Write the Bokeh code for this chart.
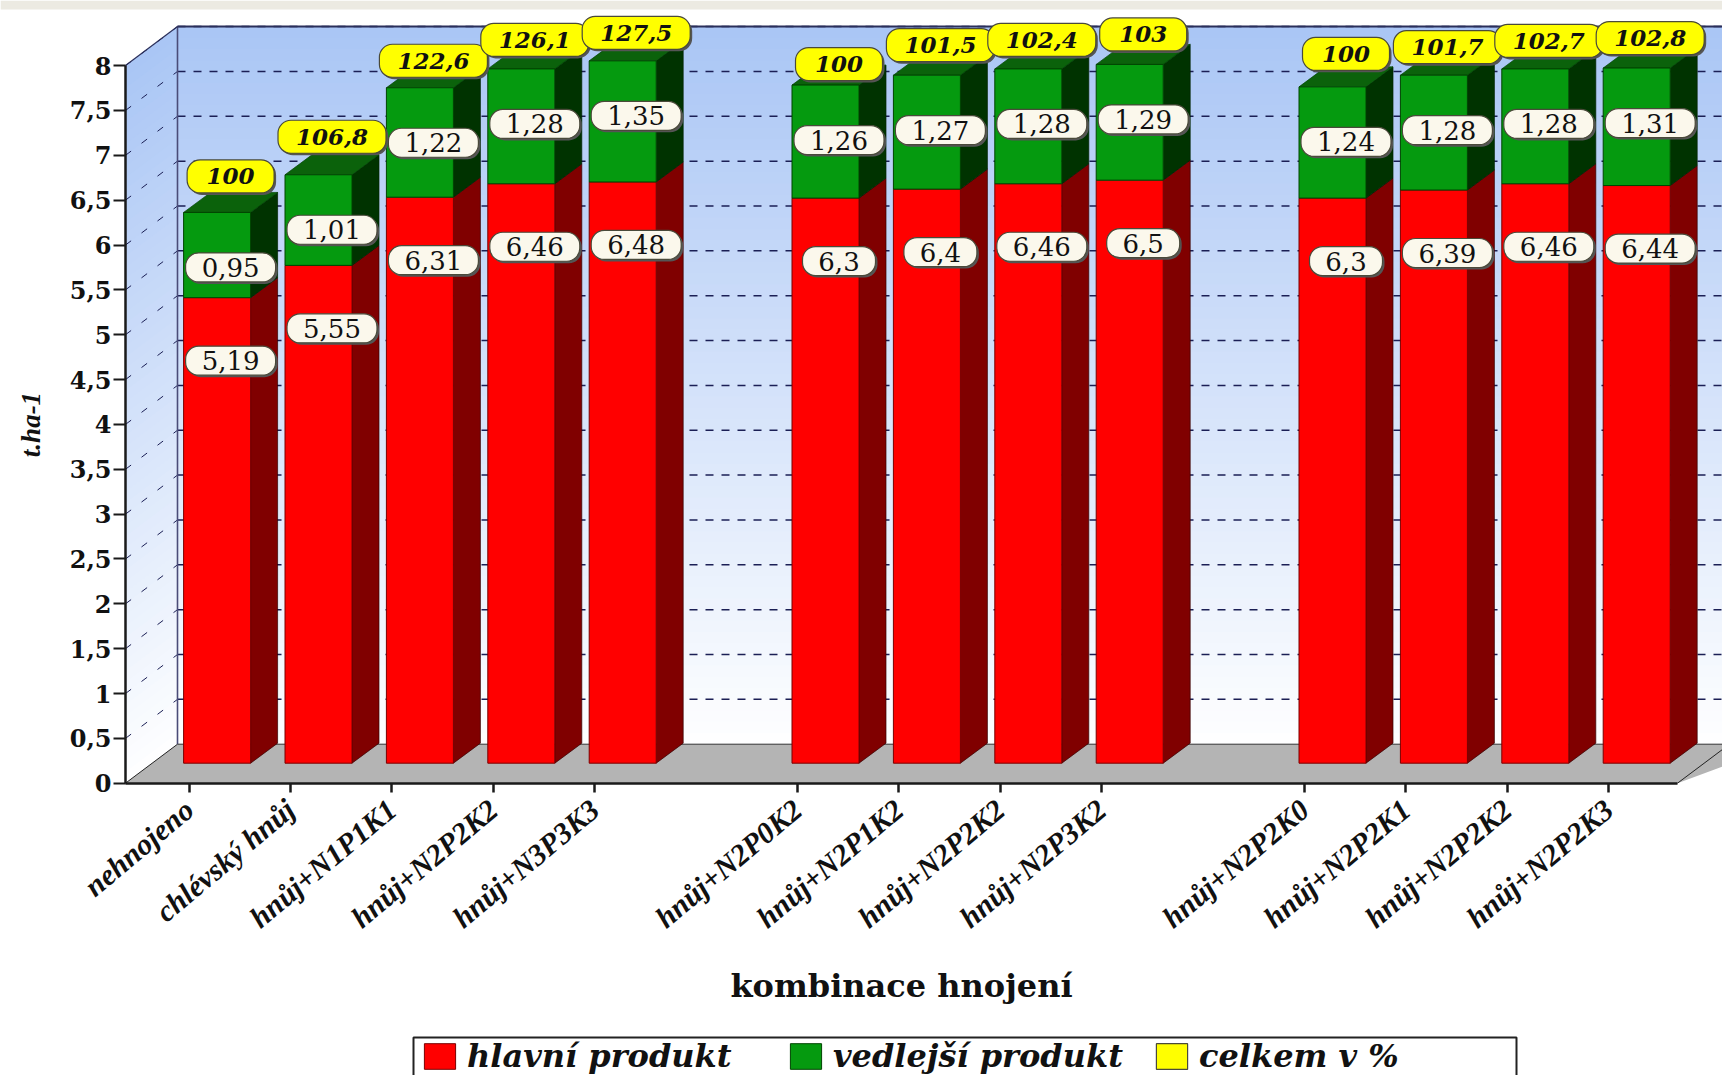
from bokeh.plotting import figure
from bokeh.models import Range1d, FixedTicker, Legend, LegendItem
from bokeh.core.properties import value
from bokeh.embed import file_html
from bokeh.resources import INLINE

# Field trial results, t/ha, per fertilisation combination
kombinace = ["nehnojeno", "chlévský hnůj", "hnůj+N1P1K1", "hnůj+N2P2K2", "hnůj+N3P3K3",
             "hnůj+N2P0K2", "hnůj+N2P1K2", "hnůj+N2P2K2", "hnůj+N2P3K2",
             "hnůj+N2P2K0", "hnůj+N2P2K1", "hnůj+N2P2K2", "hnůj+N2P2K3"]
hlavni = [5.19, 5.55, 6.31, 6.46, 6.48, 6.3, 6.4, 6.46, 6.5, 6.3, 6.39, 6.46, 6.44]
vedlejsi = [0.95, 1.01, 1.22, 1.28, 1.35, 1.26, 1.27, 1.28, 1.29, 1.24, 1.28, 1.28, 1.31]
celkem = [100, 106.8, 122.6, 126.1, 127.5, 100, 101.5, 102.4, 103, 100, 101.7, 102.7, 102.8]
pozice = [0, 1, 2, 3, 4, 6, 7, 8, 9, 11, 12, 13, 14]
y_ticks = [0, 0.5, 1, 1.5, 2, 2.5, 3, 3.5, 4, 4.5, 5, 5.5, 6, 6.5, 7, 7.5, 8]

W, H = 1722, 1075
X0, UX = 188.6, 101.4      # pixel of first category, pixels per category
Y0, UY = 782.7, 89.7       # pixel of zero, pixels per t/ha


def px(v):
    return (v - X0) / UX


def py(v):
    return (Y0 - v) / UY


def dxp(v):
    return v / UX


def dyp(v):
    return v / UY


def txt(v):
    return f"{v:g}".replace(".", ",")


p = figure(width=W, height=H, output_backend="svg", toolbar_location=None,
           x_range=Range1d(px(0), px(W)), y_range=Range1d(py(H), py(0)),
           min_border=0, min_border_left=0, min_border_right=0,
           min_border_top=0, min_border_bottom=0, outline_line_color=None)
p.grid.visible = False
p.background_fill_color = "white"
p.border_fill_color = "white"

# strip along the top of the page
p.quad(left=px(0), right=px(W), bottom=py(9), top=py(0), fill_color="#ECEAE2", line_color=None)

# walls: vertical blue-to-white ramp, painted from the top down
WALL_DX, WALL_DY = 52, 39
ax_x, wall_x, end_x = px(125), px(125 + WALL_DX), px(W + 60)
floor_y, wall_top = dyp(WALL_DY), 8 + dyp(WALL_DY)
BANDS = 64
for i in range(BANDS):
    f = i / BANDS
    col = "#%02x%02x%02x" % (round(170 + 85 * f), round(198 + 57 * f), round(245 + 10 * f))
    t = wall_top + (floor_y - wall_top) * f
    p.quad(left=wall_x, right=end_x, bottom=floor_y, top=t, fill_color=col, line_color=None)
    t0 = t - dyp(WALL_DY)
    p.patch([ax_x, wall_x, wall_x, ax_x], [t0, t, floor_y, 0], fill_color=col, line_color=None)

# floor
p.patch([ax_x, wall_x, px(W + 60), px(1677)], [0, floor_y, floor_y, 0],
        fill_color="#B4B4B4", line_color=None)
p.line([ax_x, wall_x], [0, floor_y], line_color="#222222", line_width=1)
p.line([px(1677), px(1677 + WALL_DX)], [0, floor_y], line_color="#222222", line_width=1)

# grid on the back and side walls
grid_vals = [v for v in y_ticks if v > 0]
p.segment(x0=[wall_x] * len(grid_vals), x1=[end_x] * len(grid_vals),
          y0=[v + floor_y for v in grid_vals], y1=[v + floor_y for v in grid_vals],
          line_color="#1b1f55", line_width=1.5, line_dash="8 8")
p.segment(x0=[ax_x] * len(grid_vals), x1=[wall_x] * len(grid_vals),
          y0=grid_vals, y1=[v + floor_y for v in grid_vals],
          line_color="#1b1f55", line_width=1, line_dash="7 13")

# wall frame
p.line([wall_x, wall_x], [floor_y, wall_top], line_color="#4a4c78", line_width=1.6)
p.line([wall_x, end_x], [wall_top, wall_top], line_color="#2a2f5a", line_width=2)
p.line([ax_x, wall_x], [8, wall_top], line_color="#2a2f5a", line_width=1.2)
p.line([wall_x, end_x], [floor_y, floor_y], line_color="#333333", line_width=1)

# bars
BAR_L, BAR_W = -5.5, 67
SIDE_DX, SIDE_DY = 27, 20
base = dyp(SIDE_DY)
xl = [q + dxp(BAR_L) for q in pozice]
xr = [a + dxp(BAR_W) for a in xl]
top_r = [base + a for a in hlavni]
top_g = [base + a + b for a, b in zip(hlavni, vedlejsi)]
sx, sy = dxp(SIDE_DX), dyp(SIDE_DY)

for a, b, tr, tg in zip(xl, xr, top_r, top_g):
    p.patch([b, b + sx, b + sx, b], [base, base + sy, tr + sy, tr],
            fill_color="#800000", line_color="#330000", line_width=0.7)
    p.patch([b, b + sx, b + sx, b], [tr, tr + sy, tg + sy, tg],
            fill_color="#003300", line_color="#002200", line_width=0.7)
    p.patch([a, b, b + sx, a + sx], [tg, tg, tg + sy, tg + sy],
            fill_color="#0B620B", line_color="#004400", line_width=0.7)

red = p.quad(left=xl, right=xr, bottom=base, top=top_r,
             fill_color="#FF0000", line_color="#7a0000", line_width=1)
green = p.quad(left=xl, right=xr, bottom=top_r, top=top_g,
               fill_color="#059A0F", line_color="#004400", line_width=1)

# value labels: rounded plates centred over front face and side together
cx = [a + dxp((BAR_W + SIDE_DX) / 2) for a in xl]
LBL_R = dyp(63)      # red plate sits this far below the red top
LBL_G = dyp(55)      # green plate sits this far below the green top
TOT_LIFT = [36, 38, 27, 29, 28, 21, 30, 29, 30, 33, 28, 28, 30]


def plates(cxs, cys, strings, w_by_len, h, fill, **text_kw):
    ws = [w_by_len[min(len(s), max(w_by_len))] for s in strings]
    hh = dyp(h) / 2
    lefts = [c - dxp(w) / 2 for c, w in zip(cxs, ws)]
    rights = [c + dxp(w) / 2 for c, w in zip(cxs, ws)]
    bottoms = [c - hh for c in cys]
    tops = [c + hh for c in cys]
    p.quad(left=[v + dxp(2) for v in lefts], right=[v + dxp(2) for v in rights],
           bottom=[v - dyp(2) for v in bottoms], top=[v - dyp(2) for v in tops],
           fill_color="#555555", line_color=None, border_radius=13)
    r = p.quad(left=lefts, right=rights, bottom=bottoms, top=tops, fill_color=fill,
               line_color="#4a4a3a", line_width=1.2, border_radius=13)
    p.text(x=cxs, y=cys, text=strings, text_align="center", text_baseline="middle",
           text_color="#111111", **text_kw)
    return r


plates(cx, [a - LBL_G for a in top_g], [txt(v) for v in vedlejsi],
       {3: 73, 4: 90}, 29, "#FBF8EC", text_font=value("DejaVu Serif"), text_font_size="26px")
plates(cx, [a - LBL_R for a in top_r], [txt(v) for v in hlavni],
       {3: 73, 4: 90}, 29, "#FBF8EC", text_font=value("DejaVu Serif"), text_font_size="26px")
yellow = plates(cx, [a + dyp(b) for a, b in zip(top_g, TOT_LIFT)], [txt(v) for v in celkem],
                {3: 87, 5: 108}, 33, "#FFFF00", text_font=value("DejaVu Serif"),
                text_font_style="bold italic", text_font_size="23px")

# axes sit inside the full-page frame
yax = p.yaxis[0]
yax.fixed_location = ax_x
yax.bounds = (0, 8)
yax.ticker = FixedTicker(ticks=y_ticks)
yax.major_label_overrides = {v: txt(v) for v in y_ticks}
yax.major_label_text_font = "DejaVu Serif"
yax.major_label_text_font_style = "bold"
yax.major_label_text_font_size = "24px"
yax.major_label_text_color = "#111111"
yax.major_label_standoff = 2
yax.major_tick_out = 12
yax.major_tick_in = 0
yax.minor_tick_line_color = None
yax.major_tick_line_width = 2
yax.major_tick_line_color = "#1a1a1a"
yax.axis_line_width = 2.5
yax.axis_line_color = "#1a1a1a"
yax.axis_label = "t.ha-1"
yax.axis_label_text_font = "Liberation Serif"
yax.axis_label_text_font_style = "bold italic"
yax.axis_label_text_font_size = "27px"
yax.axis_label_text_color = "#111111"
yax.axis_label_standoff = 21

xax = p.xaxis[0]
xax.fixed_location = 0
xax.bounds = (ax_x, px(1677))
xax.ticker = FixedTicker(ticks=pozice)
xax.major_label_overrides = dict(zip(pozice, kombinace))
xax.major_label_orientation = 0.70
xax.major_label_text_font = "Liberation Serif"
xax.major_label_text_font_style = "bold italic"
xax.major_label_text_font_size = "30px"
xax.major_label_text_color = "#111111"
xax.major_label_standoff = 13
xax.major_tick_out = 9
xax.major_tick_in = 0
xax.minor_tick_line_color = None
xax.major_tick_line_width = 2.5
xax.major_tick_line_color = "#1a1a1a"
xax.axis_line_width = 2.5
xax.axis_line_color = "#1a1a1a"
xax.axis_label = "kombinace hnojení"
xax.axis_label_text_font = "DejaVu Serif"
xax.axis_label_text_font_style = "bold"
xax.axis_label_text_font_size = "32px"
xax.axis_label_text_color = "#111111"
xax.axis_label_standoff = 17

# legend: frame drawn behind a borderless legend so its padding stays tight around the swatches
p.quad(left=px(413), right=px(1516), top=py(1037), bottom=py(1090),
       fill_color="white", line_color="#222222", line_width=2)
legend = Legend(items=[LegendItem(label="hlavní produkt", renderers=[red]),
                       LegendItem(label="vedlejší produkt", renderers=[green]),
                       LegendItem(label="celkem v %", renderers=[yellow])],
                orientation="horizontal", location=(420, 0),
                label_text_font="DejaVu Serif", label_text_font_style="bold italic",
                label_text_font_size="32px", label_text_color="#111111",
                glyph_width=39, glyph_height=32, label_standoff=8, spacing=19, label_width=300,
                padding=2, margin=0, border_line_color=None,
                background_fill_alpha=0)
p.add_layout(legend, "center")

open("out.html", "w").write(file_html(p, INLINE))
